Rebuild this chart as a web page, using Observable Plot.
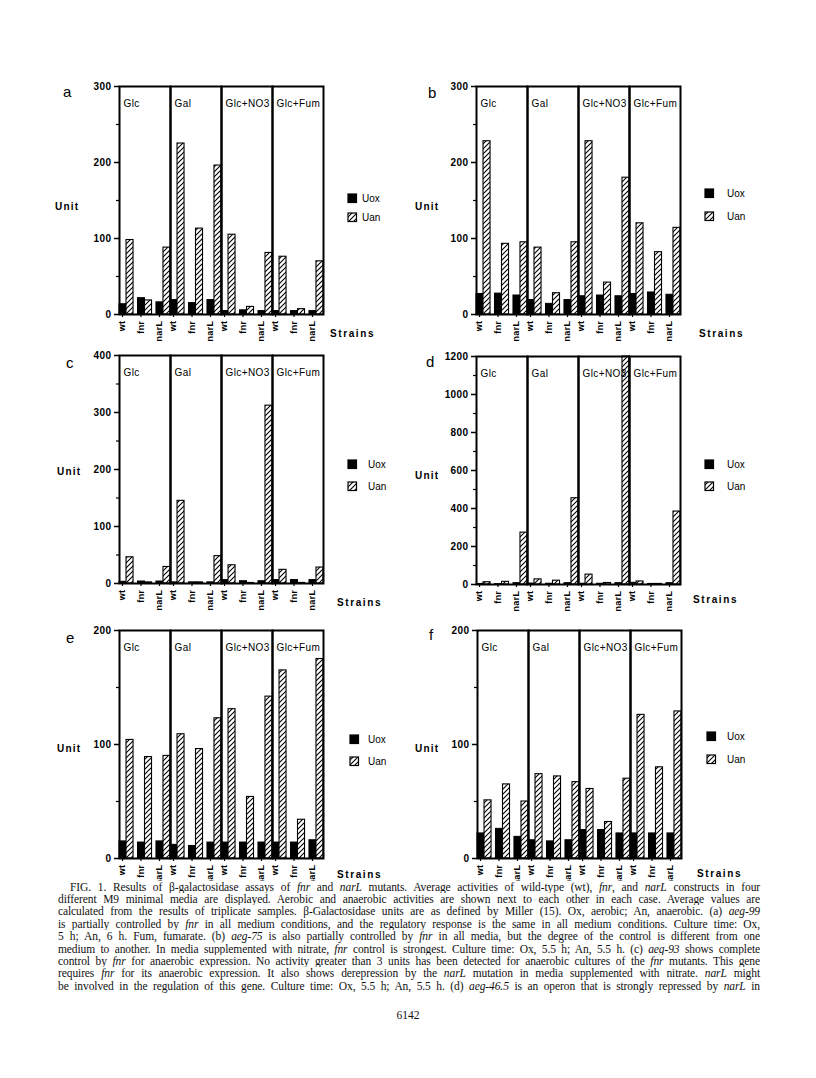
<!DOCTYPE html>
<html><head><meta charset="utf-8">
<script src="https://cdn.jsdelivr.net/npm/d3@7"></script>
<script src="https://cdn.jsdelivr.net/npm/@observablehq/plot@0.6"></script>
<style>
html,body{margin:0;padding:0;background:#fff;}
#page{position:relative;width:816px;height:1078px;overflow:hidden;background:#fff;}
.panel{position:absolute;}
.panel svg{overflow:visible;}
.panel svg text{letter-spacing:0.4px;}
#overlay{position:absolute;left:0;top:0;}
.cap{position:absolute;left:58px;width:702px;font-family:"Liberation Serif","Times New Roman",serif;font-size:11.5px;letter-spacing:-0.1px;word-spacing:-0.6px;line-height:12.4px;text-align:justify;text-align-last:justify;color:#111;background:#fff;}
.pg{position:absolute;left:0;width:816px;text-align:center;font-family:"Liberation Serif","Times New Roman",serif;font-size:11.5px;top:1009px;color:#111;}
</style></head>
<body>
<svg width="0" height="0" style="position:absolute">
  <defs>
    <pattern id="hatch" patternUnits="userSpaceOnUse" width="5" height="5">
      <rect width="5" height="5" fill="white"/>
      <path d="M-1,1 l2,-2 M0,5 l5,-5 M4,6 l2,-2" stroke="black" stroke-width="1.1"/>
    </pattern>
  </defs>
</svg>
<div id="page"></div>
<script>
// ---------- data ----------
const conditions = ["Glc", "Gal", "Glc+NO3", "Glc+Fum"];
const strains = ["wt", "fnr", "narL"];
const seriesNames = ["Uox", "Uan"];

// values ordered condition-major: Glc(wt,fnr,narL), Gal(...), Glc+NO3(...), Glc+Fum(...)
const aUox = [13.5, 21.5, 16, 19, 15, 19, 4.5, 5.5, 4.5, 4.5, 4.5, 4.5];
const aUan = [98, 18.5, 88, 225, 113, 196, 105, 10, 81, 76, 7, 70];
const bUox = [27, 27.5, 25, 19, 14, 19, 24, 25, 24, 27, 29, 26];
const bUan = [228, 93, 95, 88, 28, 95, 228, 42, 180, 120, 82, 114];
const cUox = [3, 3.5, 3.5, 2, 2, 2, 6, 4, 4, 6, 6, 6];
const cUan = [46, 2, 29, 145, 2, 48, 32, 1, 312, 24, 1, 28];
const dUox = [3, 2, 7, 5, 4, 7, 4, 4, 7, 9, 3, 7];
const dUan = [12, 14, 273, 27, 20, 454, 52, 8, 1200, 16, 3, 384];
const eUox = [15, 14, 15, 12, 11, 14, 14, 14, 14, 14, 14, 16];
const eUan = [104, 89, 90, 109, 96, 123, 131, 54, 142, 165, 34, 175];
const fUox = [22, 26, 19, 16, 15, 16, 25, 25, 22, 22, 22, 22];
const fUan = [51, 65, 50, 74, 72, 67, 61, 32, 70, 126, 80, 129];

const ticks300 = [0, 100, 200, 300], minor300 = [50, 150, 250];
const ticks400 = [0, 100, 200, 300, 400], minor400 = [50, 150, 250, 350];
const ticks1200 = [0, 200, 400, 600, 800, 1000, 1200], minor1200 = [100, 300, 500, 700, 900, 1100];
const ticks200 = [0, 100, 200], minor200 = [50, 150];

// ---------- layout ----------
const panels = [
  {id:"a", uox:aUox, uan:aUan, max:300, major:ticks300, minor:minor300, fl:119, ft:86,
   letter:[63,97], unit:[55,210], strainsLbl:[330,337], leg:[348,194,213,362]},
  {id:"b", uox:bUox, uan:bUan, max:300, major:ticks300, minor:minor300, fl:476, ft:86,
   letter:[428,98], unit:[415,210], strainsLbl:[699,337], leg:[705,189,212,727]},
  {id:"c", uox:cUox, uan:cUan, max:400, major:ticks400, minor:minor400, fl:119, ft:355,
   letter:[66,368], unit:[57,475], strainsLbl:[337,606], leg:[348,460,482,368]},
  {id:"d", uox:dUox, uan:dUan, max:1200, major:ticks1200, minor:minor1200, fl:476, ft:356,
   letter:[426,367], unit:[415,479], strainsLbl:[693,603], leg:[705,460,482,727]},
  {id:"e", uox:eUox, uan:eUan, max:200, major:ticks200, minor:minor200, fl:119, ft:630,
   letter:[66,643], unit:[57,752], strainsLbl:[337,878], leg:[350,735,757,368]},
  {id:"f", uox:fUox, uan:fUan, max:200, major:ticks200, minor:minor200, fl:477, ft:630,
   letter:[429,640], unit:[415,752], strainsLbl:[697,877], leg:[707,732,755,727]}
];

const FW = 204, FH = 228, ML = 79, MT = 16, MB = 46, MR = 4;
const PI = 0.24;
const step = (FW / 4) / (3 - PI);
const half = step * (1 - PI) / 2;
const FONT = '"Liberation Sans", Arial, Helvetica, sans-serif';
const intFmt = d3.format("d");

const page = document.getElementById("page");

for (const p of panels) {
  const rows = [];
  conditions.forEach((c, i) => strains.forEach((s, j) => {
    rows.push({condition: c, strain: s, uox: p.uox[i * 3 + j], uan: p.uan[i * 3 + j]});
  }));
  const chart = Plot.plot({
    width: ML + FW + MR, height: MT + FH + MB,
    marginLeft: ML, marginRight: MR, marginTop: MT, marginBottom: MB,
    style: {fontFamily: FONT, background: "transparent", overflow: "visible", color: "black"},
    fx: {domain: conditions, padding: 0, axis: null, label: null},
    x: {domain: strains, paddingInner: PI, paddingOuter: 0, axis: null, label: null, round: false},
    y: {domain: [0, p.max], axis: null, label: null},
    marks: [
      Plot.barY(rows, {fx: "condition", x: "strain", y: "uox", fill: "black", stroke: "black", strokeWidth: 1, insetRight: half}),
      Plot.barY(rows, {fx: "condition", x: "strain", y: "uan", fill: "url(#hatch)", stroke: "black", strokeWidth: 1.1, insetLeft: half}),
      Plot.frame({stroke: "black", strokeWidth: 2}),
      Plot.text(conditions, {fx: d => d, text: d => d, frameAnchor: "top-left", dx: 4, dy: 13, fontSize: 10, fill: "black"}),
      Plot.axisY({ticks: p.major, tickFormat: intFmt, tickSize: 5, tickPadding: 3, fontSize: 10, fontWeight: "bold", label: null, strokeWidth: 1.5}),
      Plot.axisY({ticks: p.minor, tickSize: 3, tickFormat: () => "", label: null, strokeWidth: 1.2}),
      Plot.axisX({tickRotate: -90, tickSize: 3, tickPadding: 3, fontSize: 9, fontWeight: "bold", label: null, dx: -4, strokeWidth: 1.2})
    ]
  });
  const div = document.createElement("div");
  div.className = "panel";
  div.style.left = (p.fl - ML) + "px";
  div.style.top = (p.ft - MT) + "px";
  div.appendChild(chart);
  page.appendChild(div);
}

// ---------- overlay labels & legends ----------
const NS = "http://www.w3.org/2000/svg";
const ov = document.createElementNS(NS, "svg");
ov.setAttribute("id", "overlay");
ov.setAttribute("width", 816);
ov.setAttribute("height", 1078);
page.appendChild(ov);
function txt(x, y, s, attrs) {
  const t = document.createElementNS(NS, "text");
  t.setAttribute("x", x); t.setAttribute("y", y);
  t.setAttribute("font-family", FONT);
  for (const k in attrs) t.setAttribute(k, attrs[k]);
  t.textContent = s;
  ov.appendChild(t);
}
function rect(x, y, w, h, fill) {
  const r = document.createElementNS(NS, "rect");
  r.setAttribute("x", x); r.setAttribute("y", y);
  r.setAttribute("width", w); r.setAttribute("height", h);
  r.setAttribute("fill", fill); r.setAttribute("stroke", "black"); r.setAttribute("stroke-width", 1.2);
  ov.appendChild(r);
}
for (const p of panels) {
  txt(p.letter[0], p.letter[1], p.id, {"font-size": 15});
  txt(p.unit[0], p.unit[1], "Unit", {"font-size": 10, "font-weight": "bold", "letter-spacing": "1.2px"});
  txt(p.strainsLbl[0], p.strainsLbl[1], "Strains", {"font-size": 10, "font-weight": "bold", "letter-spacing": "1.6px"});
  const [lx, y1, y2, tx] = p.leg;
  rect(lx, y1, 8.5, 8.5, "black");
  rect(lx, y2, 8.5, 8.5, "url(#hatch)");
  txt(tx, y1 + 8, seriesNames[0], {"font-size": 10});
  txt(tx, y2 + 8, seriesNames[1], {"font-size": 10});
}

// ---------- caption ----------
const captionLines = [
  'FIG. 1. Results of β-galactosidase assays of <i>fnr</i> and <i>narL</i> mutants. Average activities of wild-type (wt), <i>fnr</i>, and <i>narL</i> constructs in four',
  'different M9 minimal media are displayed. Aerobic and anaerobic activities are shown next to each other in each case. Average values are',
  'calculated from the results of triplicate samples. β-Galactosidase units are as defined by Miller (15). Ox, aerobic; An, anaerobic. (a) <i>aeg-99</i>',
  'is partially controlled by <i>fnr</i> in all medium conditions, and the regulatory response is the same in all medium conditions. Culture time: Ox,',
  '5 h; An, 6 h. Fum, fumarate. (b) <i>aeg-75</i> is also partially controlled by <i>fnr</i> in all media, but the degree of the control is different from one',
  'medium to another. In media supplemented with nitrate, <i>fnr</i> control is strongest. Culture time: Ox, 5.5 h; An, 5.5 h. (c) <i>aeg-93</i> shows complete',
  'control by <i>fnr</i> for anaerobic expression. No activity greater than 3 units has been detected for anaerobic cultures of the <i>fnr</i> mutants. This gene',
  'requires <i>fnr</i> for its anaerobic expression. It also shows derepression by the <i>narL</i> mutation in media supplemented with nitrate. <i>narL</i> might',
  'be involved in the regulation of this gene. Culture time: Ox, 5.5 h; An, 5.5 h. (d) <i>aeg-46.5</i> is an operon that is strongly repressed by <i>narL</i> in'
];
captionLines.forEach((l, i) => {
  const d = document.createElement("div");
  d.className = "cap";
  d.style.top = (880.5 + i * 12.4) + "px";
  if (i === 0) { d.style.left = "70px"; d.style.width = "690px"; }
  d.innerHTML = l;
  page.appendChild(d);
});
const pg = document.createElement("div");
pg.className = "pg";
pg.textContent = "6142";
page.appendChild(pg);
</script>
</body></html>
